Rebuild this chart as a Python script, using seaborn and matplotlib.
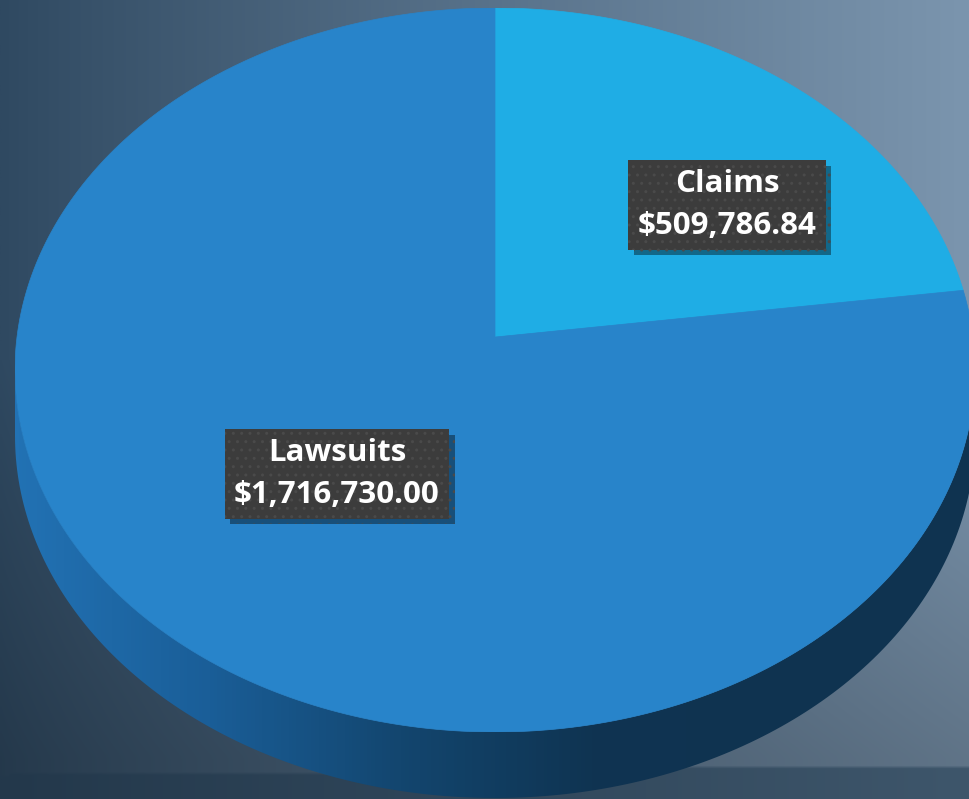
import numpy as np
import seaborn as sns
import matplotlib.pyplot as plt
from matplotlib.patches import Polygon
from matplotlib.colors import LinearSegmentedColormap
import matplotlib.patheffects as pe

# data
categories = ['Claims', 'Lawsuits']
amounts = [509786.84, 1716730.00]
slice_colors = ['#1fade5', '#2884ca']

sns.set_theme(style="white")
plt.rcParams['font.family'] = ['Open Sans', 'DejaVu Sans']

W, H = 970, 799
fig = plt.figure(figsize=(W / 100, H / 100), dpi=100)

# background in pixel coords
bg = fig.add_axes([0, 0, 1, 1])
bg.set_xlim(0, W)
bg.set_ylim(H, 0)
bg.axis('off')

xx = np.linspace(0, 1, 300)
yy = np.linspace(0, 1, 250)
X, Y = np.meshgrid(xx, yy)
left = np.array([0x2f, 0x49, 0x61]) / 255
right = np.array([0x7b, 0x95, 0xae]) / 255
img = left[None, None, :] * (1 - X[..., None] ** 0.9) + right[None, None, :] * X[..., None] ** 0.9
# darken towards the bottom
dark = np.clip((Y - 0.45) / 0.5, 0, 1)[..., None]
img = img * (1 - 0.22 * dark)
# floor band at the very bottom
floor_top = 0.972 - 0.012 * X
band = (Y > floor_top)[..., None]
floor_col = (np.array([0x23, 0x38, 0x4b]) / 255)[None, None, :] * (1 - X[..., None]) + \
            (np.array([0x3e, 0x56, 0x6b]) / 255)[None, None, :] * X[..., None]
img = np.where(band, floor_col, img)
bg.imshow(img, extent=[0, W, H, 0], aspect='auto', zorder=0, interpolation='bilinear')

# 3d side of the pie
cx, cy, a, b, depth = 495, 370, 480, 362, 66
t1 = np.linspace(np.pi, 0, 200)
upper = np.column_stack([cx + a * np.cos(t1), cy + b * np.sin(t1)])
lower = np.column_stack([cx + a * np.cos(t1[::-1]), cy + depth + b * np.sin(t1[::-1])])
side = Polygon(np.vstack([upper, lower]), closed=True, facecolor='none', edgecolor='none')
bg.add_patch(side)
side_cmap = LinearSegmentedColormap.from_list(
    'side', ['#2272b4', '#1a5e98', '#13466f', '#0f3452', '#0f3350', '#0f3350'])
grad = np.linspace(0, 1, 256)[None, :]
im = bg.imshow(grad, cmap=side_cmap, extent=[15, 975, H, 0], aspect='auto', zorder=1)
im.set_clip_path(side)

# top face of pie
pax = fig.add_axes([(cx - a) / W, 1 - (cy + b) / H, 2 * a / W, 2 * b / H])
wedges, _ = pax.pie(amounts, colors=slice_colors, startangle=90, counterclock=False,
                    radius=1, wedgeprops=dict(linewidth=0))

# tilt the flat pie: projective map that keeps the rim and lifts the centre
v = 0.091
def tilt(p):
    x, y = p[:, 0], p[:, 1]
    d = 1 + v * y
    return np.column_stack([x * np.sqrt(1 - v ** 2) / d, (y + v) / d])

for w in wedges:
    th = np.radians(np.linspace(w.theta1, w.theta2, 300))
    x0, y0 = w.center
    arc = np.column_stack([x0 + w.r * np.cos(th), y0 + w.r * np.sin(th)])
    poly = np.vstack([[w.center], arc])
    pax.add_patch(Polygon(tilt(poly), closed=True, facecolor=w.get_facecolor(),
                          edgecolor=w.get_facecolor(), linewidth=0.5))
    w.set_visible(False)
pax.set_aspect('auto')
pax.set_xlim(-1, 1)
pax.set_ylim(-1, 1)
pax.axis('off')

# data labels on top overlay
lax = fig.add_axes([0, 0, 1, 1])
lax.set_xlim(0, W)
lax.set_ylim(H, 0)
lax.axis('off')
labels = [f'{c}\n${v:,.2f}' for c, v in zip(categories, amounts)]
label_pos = [(727, 205), (337, 474)]
for txt, (lx, ly) in zip(labels, label_pos):
    tt = lax.text(lx, ly, txt, ha='center', va='center', color='white',
                  fontsize=22.5, fontweight='bold', linespacing=1.48, zorder=5,
                  bbox=dict(boxstyle='square,pad=0.3', facecolor='#3c3c3c',
                            edgecolor='#4a4a4a', hatch='..', linewidth=0))
    tt.get_bbox_patch().set_path_effects(
        [pe.SimplePatchShadow(offset=(4, -4), shadow_rgbFace='black', alpha=0.4), pe.Normal()])

fig.savefig('out.png', dpi=100)
